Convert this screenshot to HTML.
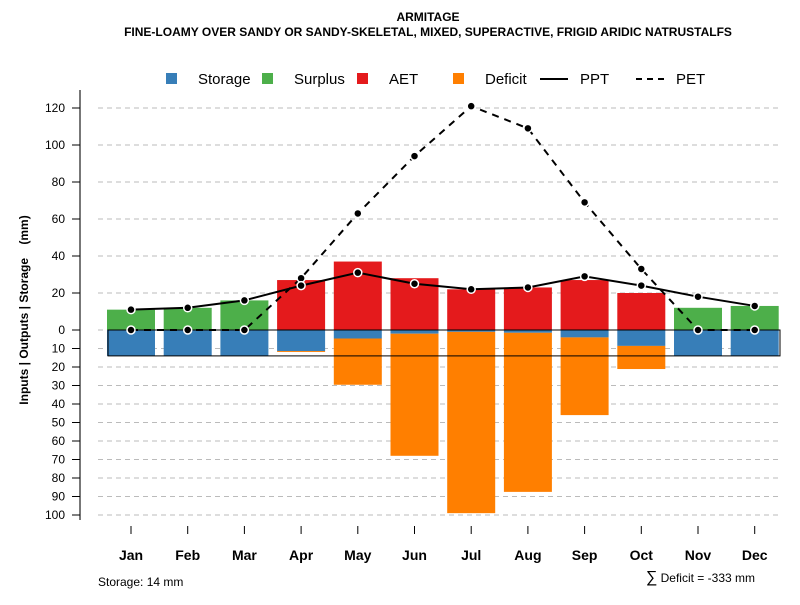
<!DOCTYPE html>
<html><head><meta charset="utf-8"><style>body{margin:0;background:#fff}svg{font-family:"Liberation Sans",sans-serif}</style></head>
<body>
<svg id="c" width="800" height="600" xmlns="http://www.w3.org/2000/svg">
<text x="428" y="21" text-anchor="middle" font-size="12" font-weight="bold">ARMITAGE</text>
<text x="428" y="36" text-anchor="middle" font-size="12" font-weight="bold">FINE-LOAMY OVER SANDY OR SANDY-SKELETAL, MIXED, SUPERACTIVE, FRIGID ARIDIC NATRUSTALFS</text>
<g font-size="15">
<rect x="166" y="73" width="11" height="11" fill="#377eb8"/><text x="198" y="84">Storage</text>
<rect x="262" y="73" width="11" height="11" fill="#4daf4a"/><text x="294" y="84">Surplus</text>
<rect x="357" y="73" width="11" height="11" fill="#e41a1c"/><text x="389" y="84">AET</text>
<rect x="453" y="73" width="11" height="11" fill="#ff7f00"/><text x="485" y="84">Deficit</text>
<line x1="540" y1="79" x2="568" y2="79" stroke="#000" stroke-width="2"/><text x="580" y="84">PPT</text>
<line x1="636" y1="79" x2="664" y2="79" stroke="#000" stroke-width="2" stroke-dasharray="6,5"/><text x="676" y="84">PET</text>
</g>
<text transform="translate(28,310) rotate(-90)" text-anchor="middle" font-size="12" font-weight="bold" style="white-space:pre">Inputs | Outputs | Storage    (mm)</text>
<text x="98" y="586" font-size="12">Storage: 14 mm</text>
<text x="755" y="582" text-anchor="end" font-size="12"><tspan font-size="16">∑</tspan> Deficit = -333 mm</text>
<g id="g"></g>
</svg>
<script>
const months=["Jan","Feb","Mar","Apr","May","Jun","Jul","Aug","Sep","Oct","Nov","Dec"];
const storage=[14,14,14,11.4,4.6,2,1,1.5,4,8.6,14,14];
const surplus=[11,12,16,0,0,0,0,0,0,0,12,13];
const aet=[0,0,0,27,37,28,22,23,27,20,0,0];
const deficit=[0,0,0,0.5,25,66,98,86,42,12.5,0,0];
const ppt=[11,12,16,24,31,25,22,23,29,24,18,13];
const pet=[0,0,0,28,63,94,121,109,69,33,0,0];
const posTicks=[0,20,40,60,80,100,120];
const negTicks=[10,20,30,40,50,60,70,80,90,100];
const storageCap=14;
const NS="http://www.w3.org/2000/svg",g=document.getElementById('g');
const y=v=>330-v*1.85, x=i=>131+i*56.7, bw=48;
function mk(t,a,p){const e=document.createElementNS(NS,t);for(const k in a)e.setAttribute(k,a[k]);(p||g).appendChild(e);return e;}
mk('line',{x1:80,y1:90,x2:80,y2:520,stroke:'#777','stroke-width':2});
posTicks.forEach(v=>{const l=mk('line',{x1:98,y1:y(v),x2:780,y2:y(v),stroke:'#bbb','stroke-dasharray':'5,4'});
mk('line',{x1:72,y1:y(v),x2:80,y2:y(v),stroke:'#000'});const t=mk('text',{x:65,y:y(v)+4,'text-anchor':'end','font-size':12});t.textContent=v;});
negTicks.forEach(v=>{const l=mk('line',{x1:98,y1:y(-v),x2:780,y2:y(-v),stroke:'#bbb','stroke-dasharray':'5,4'});
mk('line',{x1:72,y1:y(-v),x2:80,y2:y(-v),stroke:'#000'});const t=mk('text',{x:65,y:y(-v)+4,'text-anchor':'end','font-size':12});t.textContent=v;});
months.forEach((m,i)=>{const cx=x(i);
if(surplus[i]>0){const r=mk('rect',{x:cx-bw/2,y:y(surplus[i]),width:bw,height:surplus[i]*1.85,fill:'#4daf4a'});}
if(aet[i]>0){const r=mk('rect',{x:cx-bw/2,y:y(aet[i]),width:bw,height:aet[i]*1.85,fill:'#e41a1c'});}
const s=mk('rect',{x:cx-bw/2,y:330,width:bw,height:storage[i]*1.85,fill:'#377eb8'});
if(deficit[i]>0){const r=mk('rect',{x:cx-bw/2,y:y(-storage[i]),width:bw,height:deficit[i]*1.85,fill:'#ff7f00'});}
mk('line',{x1:cx,y1:526,x2:cx,y2:534,stroke:'#000'});
const t=mk('text',{x:cx,y:560,'text-anchor':'middle','font-size':14,'font-weight':'bold'});t.textContent=m;});
const box=mk('rect',{x:108,y:330,width:672,height:storageCap*1.85,fill:'none',stroke:'#000','stroke-width':1});
function line(d,dash,name){const p=mk('polyline',{points:d.map((v,i)=>x(i)+','+y(v)).join(' '),fill:'none',stroke:'#000','stroke-width':2,'stroke-dasharray':dash});
d.forEach((v,i)=>{const c=mk('circle',{cx:x(i),cy:y(v),r:4,fill:'#000',stroke:'#fff','stroke-width':1.5});});}
line(pet,'7,6','pet-line');line(ppt,'none','ppt-line');
</script>
</body></html>
